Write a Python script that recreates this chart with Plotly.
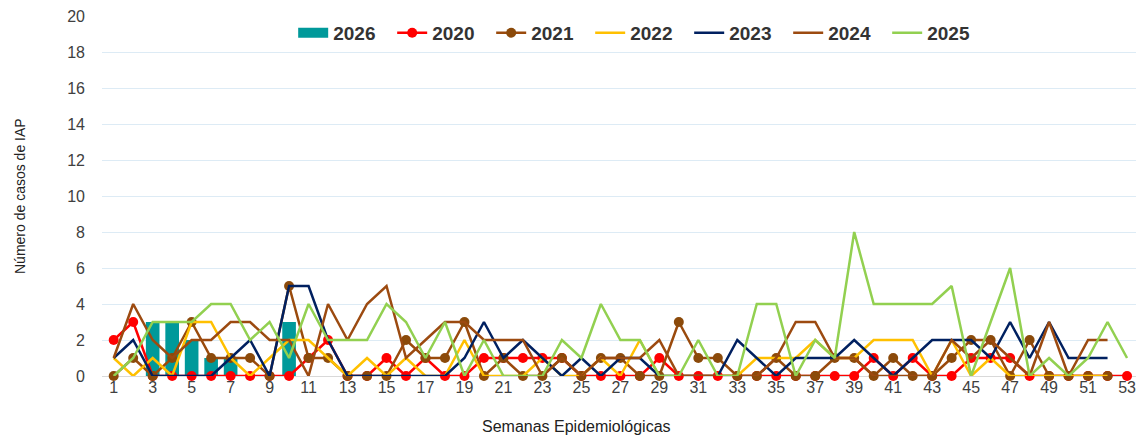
import plotly.graph_objects as go

weeks = list(range(1, 54))

y2026 = [0, 0, 3, 3, 2, 1, 1, 0, 0, 3]

y2020 = [2, 3, 0, 0, 0, 0, 0, 0, 0, 0, 1, 2, 0, 0, 1, 0, 1, 0, 0, 1,
         1, 1, 1, 1, 0, 0, 0, 0, 1, 0, 0, 0, 0, 0, 0, 0, 0, 0, 0, 1,
         0, 1, 0, 0, 1, 1, 1, 0, 0, 0, 0, 0, 0]

y2021 = [0, 1, 0, 1, 3, 1, 1, 1, 0, 5, 1, 1, 0, 0, 0, 2, 1, 1, 3, 0,
         1, 0, 0, 1, 0, 1, 1, 0, 0, 3, 1, 1, 0, 0, 1, 0, 0, 1, 1, 0,
         1, 0, 0, 1, 2, 2, 0, 2, 0, 0, 0, 0]

y2022 = [1, 0, 1, 0, 3, 3, 1, 0, 1, 2, 2, 1, 0, 1, 0, 1, 0, 0, 2, 0,
         0, 0, 1, 0, 0, 1, 0, 2, 0, 0, 0, 0, 0, 1, 1, 1, 2, 1, 1, 2,
         2, 2, 0, 2, 0, 1, 0, 0, 0, 0, 0, 0]

y2023 = [1, 2, 0, 0, 0, 0, 1, 2, 0, 5, 5, 2, 0, 0, 0, 0, 0, 0, 1, 3,
         1, 2, 1, 0, 1, 0, 1, 1, 0, 0, 0, 0, 2, 1, 0, 1, 1, 1, 2, 1,
         0, 1, 2, 2, 2, 1, 3, 1, 3, 1, 1, 1]

y2024 = [1, 4, 2, 1, 2, 2, 3, 3, 2, 2, 0, 4, 2, 4, 5, 1, 2, 3, 3, 2,
         2, 2, 0, 1, 0, 1, 1, 1, 2, 0, 0, 0, 0, 0, 1, 3, 3, 1, 1, 0,
         0, 0, 0, 2, 1, 2, 1, 0, 3, 0, 2, 2]

y2025 = [0, 1, 3, 3, 3, 4, 4, 2, 3, 1, 4, 2, 2, 2, 4, 3, 1, 3, 0, 2,
         0, 0, 0, 2, 1, 4, 2, 2, 0, 0, 2, 0, 0, 4, 4, 0, 2, 1, 8, 4,
         4, 4, 4, 5, 0, 3, 6, 0, 1, 0, 1, 3, 1]

x_ticks = list(range(1, 54, 2))
y_ticks = list(range(0, 21, 2))

BAR_COLOR = "#00999A"

fig = go.Figure()

fig.add_trace(go.Bar(x=weeks[:len(y2026)], y=y2026, name="2026", legendgroup="2026",
                     showlegend=False,
                     marker=dict(color=BAR_COLOR, line=dict(width=0)), width=0.7))
# legend entry for the bar series (wide rectangle swatch)
fig.add_trace(go.Scatter(x=[None], y=[None], name="2026", legendgroup="2026",
                         mode="lines", line=dict(color=BAR_COLOR, width=11)))

def line_trace(y, name, color, markers=False, mcolor=None):
    return go.Scatter(
        x=weeks[:len(y)], y=y, name=name,
        mode="lines+markers" if markers else "lines",
        line=dict(color=color, width=2.5),
        marker=dict(size=10, color=mcolor or color) if markers else None,
        cliponaxis=False,
    )

fig.add_trace(line_trace(y2020, "2020", "#FF0000", True))
fig.add_trace(line_trace(y2021, "2021", "#9A4A0C", True, "#8B4A0A"))
fig.add_trace(line_trace(y2022, "2022", "#FFC000"))
fig.add_trace(line_trace(y2023, "2023", "#002060"))
fig.add_trace(line_trace(y2024, "2024", "#9C4A10"))
fig.add_trace(line_trace(y2025, "2025", "#92D050"))

fig.update_layout(
    width=1136, height=437,
    margin=dict(l=102, r=0, t=16, b=61, autoexpand=False),
    paper_bgcolor="white", plot_bgcolor="white",
    font=dict(family="Liberation Sans, Arial, sans-serif", color="#404040"),
    showlegend=True,
    legend=dict(orientation="h", x=0.52, xanchor="center", y=0.953, yanchor="middle",
                font=dict(size=19, color="#333333", weight="bold"),
                bgcolor="rgba(255,255,255,0)", entrywidth=54, entrywidthmode="pixels",
                tracegroupgap=0),
    bargap=0.3,
    annotations=[
        dict(text="Número de casos de IAP", xref="paper", yref="paper",
             x=-0.0793, y=0.5, xanchor="center", yanchor="middle", textangle=-90,
             showarrow=False, font=dict(size=14, color="#222222")),
        dict(text="Semanas Epidemiológicas", xref="paper", yref="paper",
             x=0.459, y=-0.141, xanchor="center", yanchor="middle",
             showarrow=False, font=dict(size=16, color="#222222")),
    ],
)

fig.update_xaxes(
    range=[0.4, 53.46], tickmode="array", tickvals=x_ticks,
    ticktext=[str(v) for v in x_ticks], automargin=False,
    ticklabeloverflow="allow",
    tickfont=dict(size=16, color="#404040"),
    showgrid=False, zeroline=False, showline=False,
)
fig.update_yaxes(
    range=[0, 20], tickmode="array", tickvals=y_ticks, automargin=False,
    ticklabeloverflow="allow",
    tickfont=dict(size=16, color="#404040"),
    showgrid=True, gridcolor="#DDEBF5", gridwidth=1,
    zeroline=True, zerolinecolor="#D9D9D9", zerolinewidth=1,
    ticklabelstandoff=16,
)

fig.write_html(
    "out.html",
    config={"displayModeBar": False},
    post_script="document.body.style.margin='0';document.body.style.overflow='hidden';",
)
